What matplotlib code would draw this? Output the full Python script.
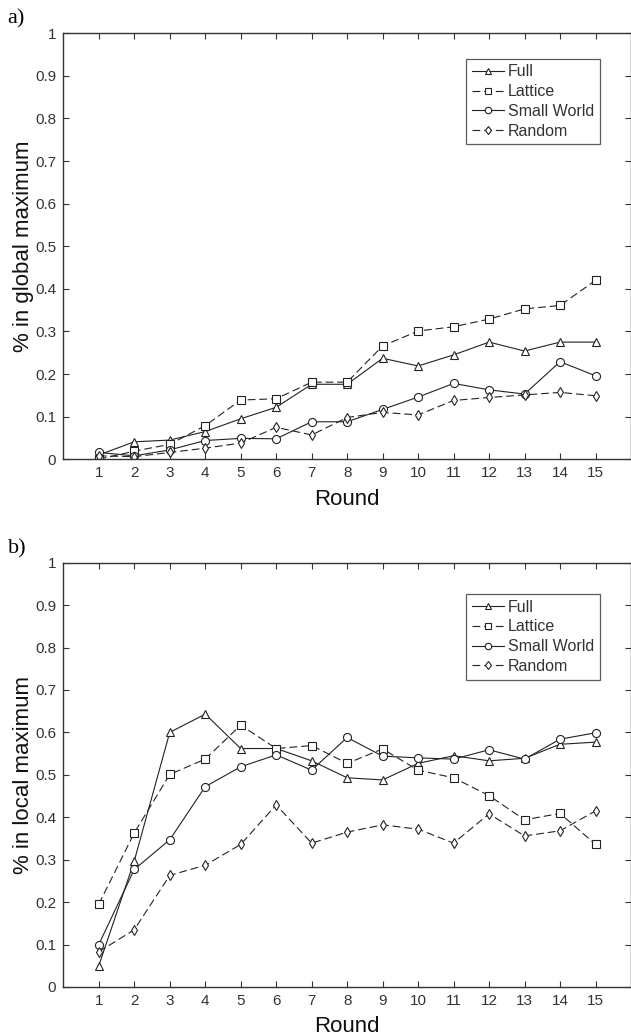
import numpy as np
import matplotlib
matplotlib.use('Agg')
import matplotlib.pyplot as plt

plt.rcParams['font.family'] = ['Liberation Sans', 'DejaVu Sans']

rounds = list(range(1, 16))
series = ['Full', 'Lattice', 'Small World', 'Random']

# a) share of agents in the global maximum
glob_full = [0.010, 0.041, 0.045, 0.065, 0.095, 0.122, 0.176, 0.176, 0.237, 0.219, 0.245, 0.275, 0.254, 0.275, 0.275]
glob_lattice = [0.000, 0.019, 0.035, 0.079, 0.139, 0.142, 0.181, 0.181, 0.266, 0.301, 0.311, 0.329, 0.353, 0.361, 0.420]
glob_small = [0.016, 0.008, 0.022, 0.044, 0.049, 0.048, 0.088, 0.088, 0.117, 0.146, 0.178, 0.163, 0.153, 0.229, 0.196]
glob_random = [0.008, 0.006, 0.016, 0.026, 0.038, 0.075, 0.057, 0.098, 0.110, 0.104, 0.138, 0.145, 0.151, 0.157, 0.149]

# b) share of agents in a local maximum
loc_full = [0.050, 0.297, 0.600, 0.643, 0.562, 0.562, 0.533, 0.493, 0.488, 0.527, 0.545, 0.533, 0.539, 0.572, 0.577]
loc_lattice = [0.195, 0.363, 0.501, 0.537, 0.617, 0.562, 0.569, 0.527, 0.561, 0.511, 0.493, 0.451, 0.394, 0.409, 0.336]
loc_small = [0.100, 0.277, 0.347, 0.472, 0.519, 0.547, 0.511, 0.588, 0.544, 0.540, 0.537, 0.559, 0.537, 0.584, 0.599]
loc_random = [0.083, 0.135, 0.263, 0.287, 0.336, 0.429, 0.339, 0.365, 0.382, 0.372, 0.339, 0.408, 0.356, 0.368, 0.415]

yticks = [0, 0.1, 0.2, 0.3, 0.4, 0.5, 0.6, 0.7, 0.8, 0.9, 1]
ytick_labels = ['0', '0.1', '0.2', '0.3', '0.4', '0.5', '0.6', '0.7', '0.8', '0.9', '1']

STYLE = {'Full': ('^', '-'), 'Lattice': ('s', (0, (7, 3.5))),
         'Small World': ('o', '-'), 'Random': ('d', (0, (7, 3.5)))}
INK = '#222222'


def panel(ax, data, ylabel, leg_anchor):
    for name, vals in zip(series, data):
        mk, ls = STYLE[name]
        ax.plot(rounds, vals, color=INK, linestyle=ls, linewidth=0.8, marker=mk,
                markersize=5.8 if mk != 'd' else 5.5, markerfacecolor='white',
                markeredgecolor=INK, markeredgewidth=0.8, label=name)
    ax.set_xlim(0, 16); ax.set_ylim(0, 1)
    ax.set_xticks(rounds); ax.set_yticks(yticks); ax.set_yticklabels(ytick_labels)
    ax.tick_params(direction='in', length=4, width=0.8, top=True, right=True,
                   labelsize=11, colors='#333333', labelcolor='#333333', pad=5)
    for s in ax.spines.values():
        s.set_linewidth(1.0); s.set_color('#333333')
    ax.set_xlabel('Round', fontsize=16, color='#111111', labelpad=6)
    ax.set_ylabel(ylabel, fontsize=16, color='#111111', labelpad=1)
    leg = ax.legend(loc='upper right', bbox_to_anchor=leg_anchor, fontsize=11.5, frameon=True,
                    fancybox=False, edgecolor='#333333', handlelength=2.0, handletextpad=0.25,
                    borderpad=0.35, labelspacing=0.3, borderaxespad=0, markerscale=0.8)
    leg.get_frame().set_linewidth(0.9)
    for t in leg.get_texts():
        t.set_color('#333333')


fig = plt.figure(figsize=(6.31, 10.36), dpi=100)
ax1 = fig.add_axes([0.1003, 0.5567, 0.8997, 0.4112])
ax2 = fig.add_axes([0.1003, 0.0473, 0.8997, 0.4096])

panel(ax1, [glob_full, glob_lattice, glob_small, glob_random], '% in global maximum', (0.945, 0.94))
panel(ax2, [loc_full, loc_lattice, loc_small, loc_random], '% in local maximum', (0.945, 0.926))

fig.text(0.012, 0.982, 'a)', family='Liberation Serif', fontsize=16, va='center')
fig.text(0.012, 0.470, 'b)', family='Liberation Serif', fontsize=16, va='center')

fig.savefig('out.png', dpi=100)
